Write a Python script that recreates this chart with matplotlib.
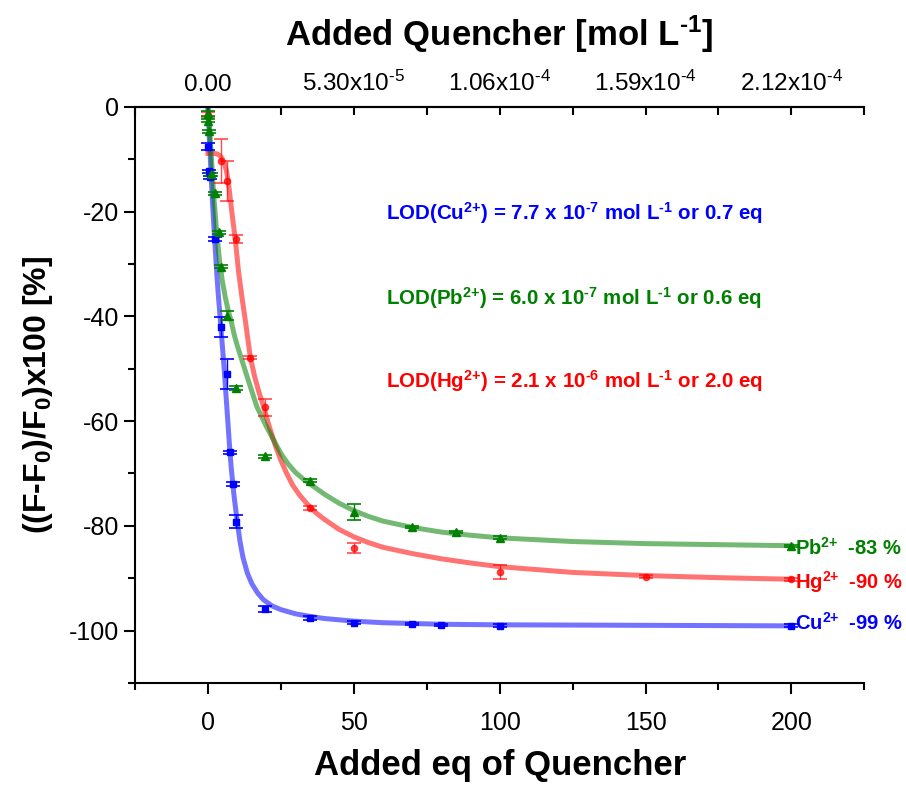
"""
Quenching titration: fluorescence change vs. added quencher (Cu2+, Pb2+, Hg2+)
"""
import numpy as np
import matplotlib
matplotlib.use('Agg')
import matplotlib.pyplot as plt
from matplotlib.ticker import MultipleLocator, FixedLocator

plt.rcParams['font.family'] = ['Liberation Sans', 'DejaVu Sans']
plt.rcParams['mathtext.fontset'] = 'custom'
plt.rcParams['mathtext.rm'] = 'Liberation Sans:bold'
plt.rcParams['mathtext.sf'] = 'Liberation Sans'
plt.rcParams['mathtext.it'] = 'Liberation Sans:italic'
plt.rcParams['mathtext.bf'] = 'Liberation Sans:bold'

# ---- measured points (eq, % change, error) ----
cu_x = [0, 0.3, 0.7, 2.5, 4.6, 6.6, 7.4, 8.6, 9.6, 19.5, 35, 50, 70, 80, 100, 200]
cu_y = [-7.6, -12.3, -13.5, -25.3, -42.0, -51.0, -66.0, -72.0, -79.2, -95.9,
        -97.6, -98.5, -98.8, -99.0, -99.1, -99.1]
cu_err = [0.7, 0.3, 0.3, 0.4, 1.9, 2.8, 0.3, 0.4, 1.2, 0.5, 0.3, 0.3, 0.2, 0.2, 0.3, 0.3]

pb_x = [0, 0.1, 0.3, 1, 2.4, 3.7, 4.6, 6.7, 9.6, 19.6, 35, 50, 70, 85, 100, 200]
pb_y = [-1.3, -2.7, -4.7, -12.9, -16.5, -24.0, -30.5, -39.9, -53.7, -66.7,
        -71.4, -77.4, -80.3, -81.2, -82.3, -83.8]
pb_err = [0.4, 0.3, 0.3, 0.3, 0.3, 0.3, 0.3, 0.9, 0.4, 0.3, 0.3, 1.5, 0.2, 0.2, 0.3, 0.2]

hg_x = [0, 4.6, 6.6, 9.6, 14.5, 19.4, 35, 50, 100, 150, 200]
hg_y = [-1.5, -10.3, -14.1, -25.3, -47.9, -57.4, -76.6, -84.2, -88.8, -89.7, -90.2]
hg_err = [0.5, 4.2, 3.8, 0.8, 0.3, 1.7, 0.3, 1.0, 1.3, 0.3, 0.3]

# ---- fitted curves ----
cu_fit_x = [0, 0.5, 1, 1.5, 2, 2.5, 3, 3.5, 4, 4.5, 5, 5.5, 6, 6.5, 7, 7.5, 8, 9,
            10, 11, 12, 13.5, 15, 17, 19, 22, 25, 30, 35, 40, 50, 60, 80, 100, 150, 200]
cu_fit_y = [0, -6, -12, -17.5, -22.5, -27, -31.5, -35.5, -39, -42.5, -46, -49.5,
            -53.5, -57.5, -61.5, -65.5, -69, -74.5, -79, -83, -86, -89, -91, -92.8,
            -94.1, -95.3, -96, -96.8, -97.3, -97.7, -98.2, -98.5, -98.8, -98.9, -99.0, -99.1]

pb_fit_x = [0, 0.5, 1, 1.5, 2, 2.5, 3, 4, 5, 6, 7, 8, 9, 10, 12, 14, 16.8, 20, 22.5,
            25, 27.5, 30, 32.5, 35, 40, 45, 50, 55, 60, 70, 80, 90, 100, 125, 150,
            175, 200]
pb_fit_y = [0, -3.5, -8, -12.5, -17, -20.5, -24, -29.5, -33.5, -36.5, -39, -41,
            -43.5, -45.5, -49, -52.5, -57.3, -61, -63.6, -66.2, -68.2, -69.8, -71.0,
            -72.0, -74.0, -75.7, -77.1, -78.2, -79.1, -80.3, -81.2, -81.8, -82.3,
            -83.0, -83.4, -83.6, -83.8]

hg_fit_x = [0, 2, 3.1, 4, 4.8, 5.5, 6.3, 7, 7.7, 8.5, 9.4, 10.5, 11.7, 13, 14.5, 16,
            17.5, 19.1, 21, 23, 25, 27, 29, 31.5, 34.3, 37, 40, 45, 50, 55, 60, 70,
            80, 90, 100, 125, 150, 175, 200]
hg_fit_y = [-8.9, -8.9, -9.0, -9.3, -9.8, -10.6, -12.1, -14.3, -17.8, -21.5, -25.4,
            -31.5, -36.5, -41.5, -47.7, -51.5, -54.5, -57.3, -61.0, -64.5, -67.5,
            -70.0, -72.2, -74.2, -76.0, -77.5, -78.8, -80.7, -82.1, -83.2, -84.1,
            -85.3, -86.3, -87.1, -87.8, -88.9, -89.5, -89.9, -90.2]

# axis ticks
top_ticks = [0, 50, 100, 150, 200]
top_labels = ['0.00', '5.30x10$^{\\mathsf{\u20105}}$', '1.06x10$^{\\mathsf{\u20104}}$',
              '1.59x10$^{\\mathsf{\u20104}}$', '2.12x10$^{\\mathsf{\u20104}}$']

BLUE = '#0000ff'
GREEN = '#008000'
RED = '#ff0000'

fig = plt.figure(figsize=(9.06, 7.85), dpi=100)
ax = fig.add_axes([0.149, 0.130, 0.805, 0.734])

# fits
ax.plot(cu_fit_x, cu_fit_y, color=BLUE, lw=3.6, alpha=0.55, zorder=2)
ax.plot(hg_fit_x, hg_fit_y, color=RED, lw=3.6, alpha=0.55, zorder=2)
ax.plot(pb_fit_x, pb_fit_y, color=GREEN, lw=3.6, alpha=0.55, zorder=2)

# data with error bars
ax.errorbar(cu_x, cu_y, yerr=cu_err, fmt='s', ms=4.5, color=BLUE, ecolor=BLUE,
            elinewidth=1, capsize=5, capthick=1.2, zorder=4)
ax.errorbar(pb_x, pb_y, yerr=pb_err, fmt='^', ms=5.5, color=GREEN, ecolor=GREEN,
            elinewidth=1, capsize=5, capthick=1.2, zorder=4)
ax.errorbar(hg_x, hg_y, yerr=hg_err, fmt='o', ms=4.5, color=RED, ecolor=RED,
            elinewidth=1, capsize=5, capthick=1.2, alpha=0.7, zorder=3)

ax.set_xlim(-25, 225)
ax.set_ylim(-110, 0)

# spines: left, bottom, top only
ax.spines['right'].set_visible(False)
for s in ['left', 'bottom', 'top']:
    ax.spines[s].set_linewidth(1.5)

ax.xaxis.set_major_locator(FixedLocator([0, 50, 100, 150, 200]))
ax.xaxis.set_minor_locator(FixedLocator([-25, 25, 75, 125, 175, 225]))
ax.yaxis.set_major_locator(MultipleLocator(20))
ax.yaxis.set_minor_locator(MultipleLocator(10))
ax.tick_params(axis='both', which='major', direction='out', length=8, width=1.5,
               labelsize=18, top=False, right=False)
ax.tick_params(axis='both', which='minor', direction='out', length=5, width=1.5,
               top=False, right=False)
ax.tick_params(axis='x', which='major', pad=12)
ax.set_yticks([0, -20, -40, -60, -80, -100])
ax.set_yticklabels(['0', '-20', '-40', '-60', '-80', '-100'])

ax.set_xlabel('Added eq of Quencher', fontsize=25, fontweight='bold', labelpad=10)
ax.set_ylabel(r'((F-F$_\mathbf{0}$)/F$_\mathbf{0}$)x100 [%]', fontsize=23,
              fontweight='bold', labelpad=10)

# top axis: concentration
top = ax.secondary_xaxis('top')
top.xaxis.set_major_locator(FixedLocator(top_ticks))
top.xaxis.set_minor_locator(FixedLocator([-25, 25, 75, 125, 175, 225]))
top.set_xticklabels(top_labels)
top.tick_params(axis='x', which='both', direction='in', length=6, width=1.5,
                labelsize=17.5, pad=8)
top.spines['top'].set_linewidth(1.5)
top.set_xlabel(r'Added Quencher [mol L$^{\text{-1}}$]', fontsize=25,
               fontweight='bold', labelpad=18)

# LOD annotations
lod_cu = r'LOD(Cu$^{\text{2+}}$) = 7.7 x 10$^{\text{-7}}$ mol L$^{\text{-1}}$ or 0.7 eq'
lod_pb = r'LOD(Pb$^{\text{2+}}$) = 6.0 x 10$^{\text{-7}}$ mol L$^{\text{-1}}$ or 0.6 eq'
lod_hg = r'LOD(Hg$^{\text{2+}}$) = 2.1 x 10$^{\text{-6}}$ mol L$^{\text{-1}}$ or 2.0 eq'
ax.text(61, -20.3, lod_cu, color=BLUE, fontsize=14.8, fontweight='bold', va='center')
ax.text(61, -36.5, lod_pb, color=GREEN, fontsize=14.8, fontweight='bold', va='center')
ax.text(61, -52.4, lod_hg, color=RED, fontsize=14.8, fontweight='bold', va='center')

# end labels
ax.text(201.2, -84.2, r'Pb$^{\text{2+}}\;$ -83 %', color=GREEN, fontsize=14.5,
        fontweight='bold', va='center', clip_on=False)
ax.text(201.2, -90.8, r'Hg$^{\text{2+}}\;$ -90 %', color=RED, fontsize=14.5,
        fontweight='bold', va='center', clip_on=False)
ax.text(201.2, -98.6, r'Cu$^{\text{2+}}\;$ -99 %', color=BLUE, fontsize=14.5,
        fontweight='bold', va='center', clip_on=False)

fig.savefig('out.png', dpi=100)
